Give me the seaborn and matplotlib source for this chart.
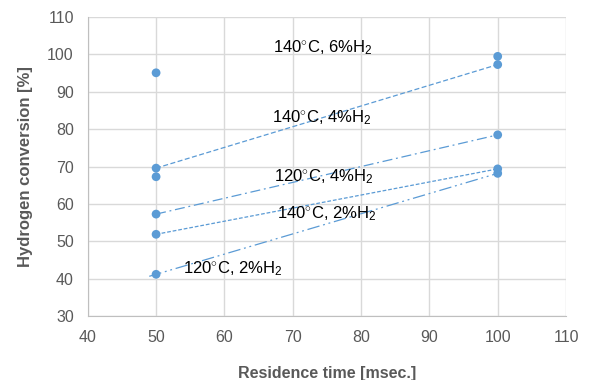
import numpy as np
import pandas as pd
import matplotlib
matplotlib.use("Agg")
import matplotlib.pyplot as plt
import seaborn as sns

# measured points
time_50 = [50, 50, 50, 50, 50, 50]
conv_50 = [95.1, 69.6, 67.3, 57.3, 51.9, 41.2]
time_100 = [100, 100, 100, 100, 100]
conv_100 = [99.5, 97.3, 78.5, 69.4, 68.2]

# trend lines (start, end) for each condition
trend_names = ["140C 6%", "140C 4%", "140C 2%", "120C 2%"]
trend_start = [69.6, 57.3, 51.9, 41.2]
trend_end = [97.3, 78.5, 69.4, 68.2]
trend_x0 = [50, 50, 50, 49]

labels = ["140$^{\\circ}$C, 6%H$_2$", "140$^{\\circ}$C, 4%H$_2$", "120$^{\\circ}$C, 4%H$_2$",
          "140$^{\\circ}$C, 2%H$_2$", "120$^{\\circ}$C, 2%H$_2$"]
label_x = [74.4, 74.3, 74.6, 75.0, 61.2]
label_y = [101.7, 83.2, 67.3, 57.4, 42.7]

sns.set_style("white")
plt.rcParams['font.family'] = ['Liberation Sans', 'DejaVu Sans']
plt.rcParams['mathtext.fontset'] = 'custom'
plt.rcParams['mathtext.rm'] = 'Liberation Sans'
plt.rcParams['mathtext.it'] = 'Liberation Sans'

blue = "#5B9BD5"
fig = plt.figure(figsize=(5.89, 3.8), dpi=100)
ax = fig.add_axes([0.149, 0.168, 0.812, 0.787])

pts = pd.DataFrame({"t": time_50 + time_100, "c": conv_50 + conv_100})

styles = [(0, (4, 2)), (0, (8, 3, 1.5, 3)), (0, (3, 1.5)), (0, (10, 3, 1.5, 3, 1.5, 3))]
for i, name in enumerate(trend_names):
    k = np.polyfit([50, 100], [trend_start[i], trend_end[i]], 1)
    xs = np.array([trend_x0[i], 100])
    df = pd.DataFrame({"t": xs, "c": np.polyval(k, xs)})
    sns.lineplot(data=df, x="t", y="c", ax=ax, color=blue, lw=0.9, linestyle=styles[i])
    ax.lines[-1].set_dashes(styles[i][1])

sns.scatterplot(data=pts, x="t", y="c", ax=ax, color=blue, s=40, edgecolor="none", zorder=5)

for lx, ly, lab in zip(label_x, label_y, labels):
    ax.text(lx, ly, lab, ha="center", va="center", fontsize=12, color="black")

ax.set_xlim(40, 110)
ax.set_ylim(30, 110)
ax.set_xticks(range(40, 111, 10))
ax.set_yticks(range(30, 111, 10))
ax.grid(True, color="#D9D9D9", lw=1)
for s in ax.spines.values():
    s.set_visible(False)
ax.spines['left'].set_visible(True)
ax.spines['bottom'].set_visible(True)
ax.spines['left'].set_color("#BFBFBF")
ax.spines['bottom'].set_color("#BFBFBF")
ax.tick_params(length=0, labelsize=11.5, colors="#595959", pad=10)
ax.set_xlabel("Residence time [msec.]", fontsize=11.5, fontweight="bold", color="#595959", labelpad=15)
ax.set_ylabel("Hydrogen conversion [%]", fontsize=12, fontweight="bold", color="#595959", labelpad=10)

fig.savefig("out.png", dpi=100)
